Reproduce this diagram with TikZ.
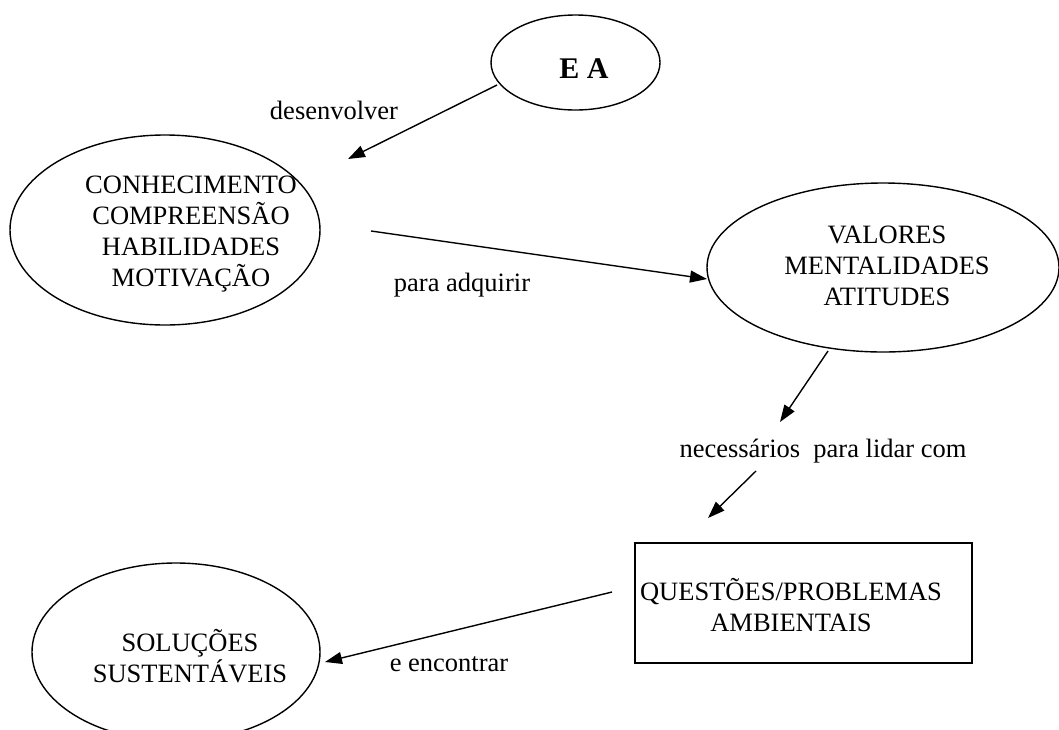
\documentclass[tikz,border=0pt]{standalone}
\usepackage{fontspec}
\setmainfont{Liberation Serif}
\usetikzlibrary{shapes.geometric,arrows.meta}
\begin{document}
\begin{tikzpicture}[x=1pt,y=-1pt,
  shape line/.style={draw=black,line width=1.4pt},
  oval/.style={shape line,ellipse,inner sep=0pt},
  txt/.style={font=\fontsize{26.5}{31}\selectfont,align=center,inner sep=0pt},
  lbl/.style={font=\fontsize{26.5}{31}\selectfont,inner sep=0pt,anchor=base},
  arr/.style={line width=1.4pt,-{Triangle[length=17pt,width=12pt]}}]
\path[use as bounding box,fill=white] (0,0) rectangle (1059,729);

% shapes
\node[oval,minimum width=169pt,minimum height=95pt] (ea) at (575.5,62.5) {};
\node[oval,minimum width=310pt,minimum height=190pt] (con) at (165,230) {};
\node[oval,minimum width=352pt,minimum height=169pt] (val) at (883,267.5) {};
\node[shape line,rectangle,minimum width=337pt,minimum height=120pt,inner sep=0pt] (que) at (803.5,603) {};
\node[oval,minimum width=288pt,minimum height=178pt] (sol) at (176,652) {};

% texts
\node[lbl,font=\fontsize{30}{34}\selectfont\bfseries] (eat) at (584,78) {E A};
\node[txt] (cont) at (191,234) {CONHECIMENTO\\COMPREENSÃO\\HABILIDADES\\MOTIVAÇÃO};
\node[txt] (valt) at (887,266) {VALORES\\MENTALIDADES\\ATITUDES};
\node[txt] (quet) at (791,605) {QUESTÕES/PROBLEMAS\\AMBIENTAIS};
\node[txt] (solt) at (190,656) {SOLUÇÕES\\SUSTENTÁVEIS};

% labels
\node[lbl] (l1) at (334,119) {desenvolver};
\node[lbl] (l2) at (462,291) {para adquirir};
\node[lbl] (l3) at (823,457) {necessários\ \ para lidar com};
\node[lbl] (l4) at (449,671) {e encontrar};

% connector ends
\coordinate (a1s) at (497,85);
\coordinate (a1e) at (348,159);
\coordinate (a2s) at (371,231);
\coordinate (a2e) at (707,279);
\coordinate (a3s) at (828,351);
\coordinate (a3e) at (780,422);
\coordinate (a4s) at (756,471);
\coordinate (a4e) at (708,518);
\coordinate (a5s) at (612,592);
\coordinate (a5e) at (325,662);

\draw[arr] (a1s) -- (a1e);
\draw[arr] (a2s) -- (a2e);
\draw[arr] (a3s) -- (a3e);
\draw[arr] (a4s) -- (a4e);
\draw[arr] (a5s) -- (a5e);
\end{tikzpicture}
\end{document}
